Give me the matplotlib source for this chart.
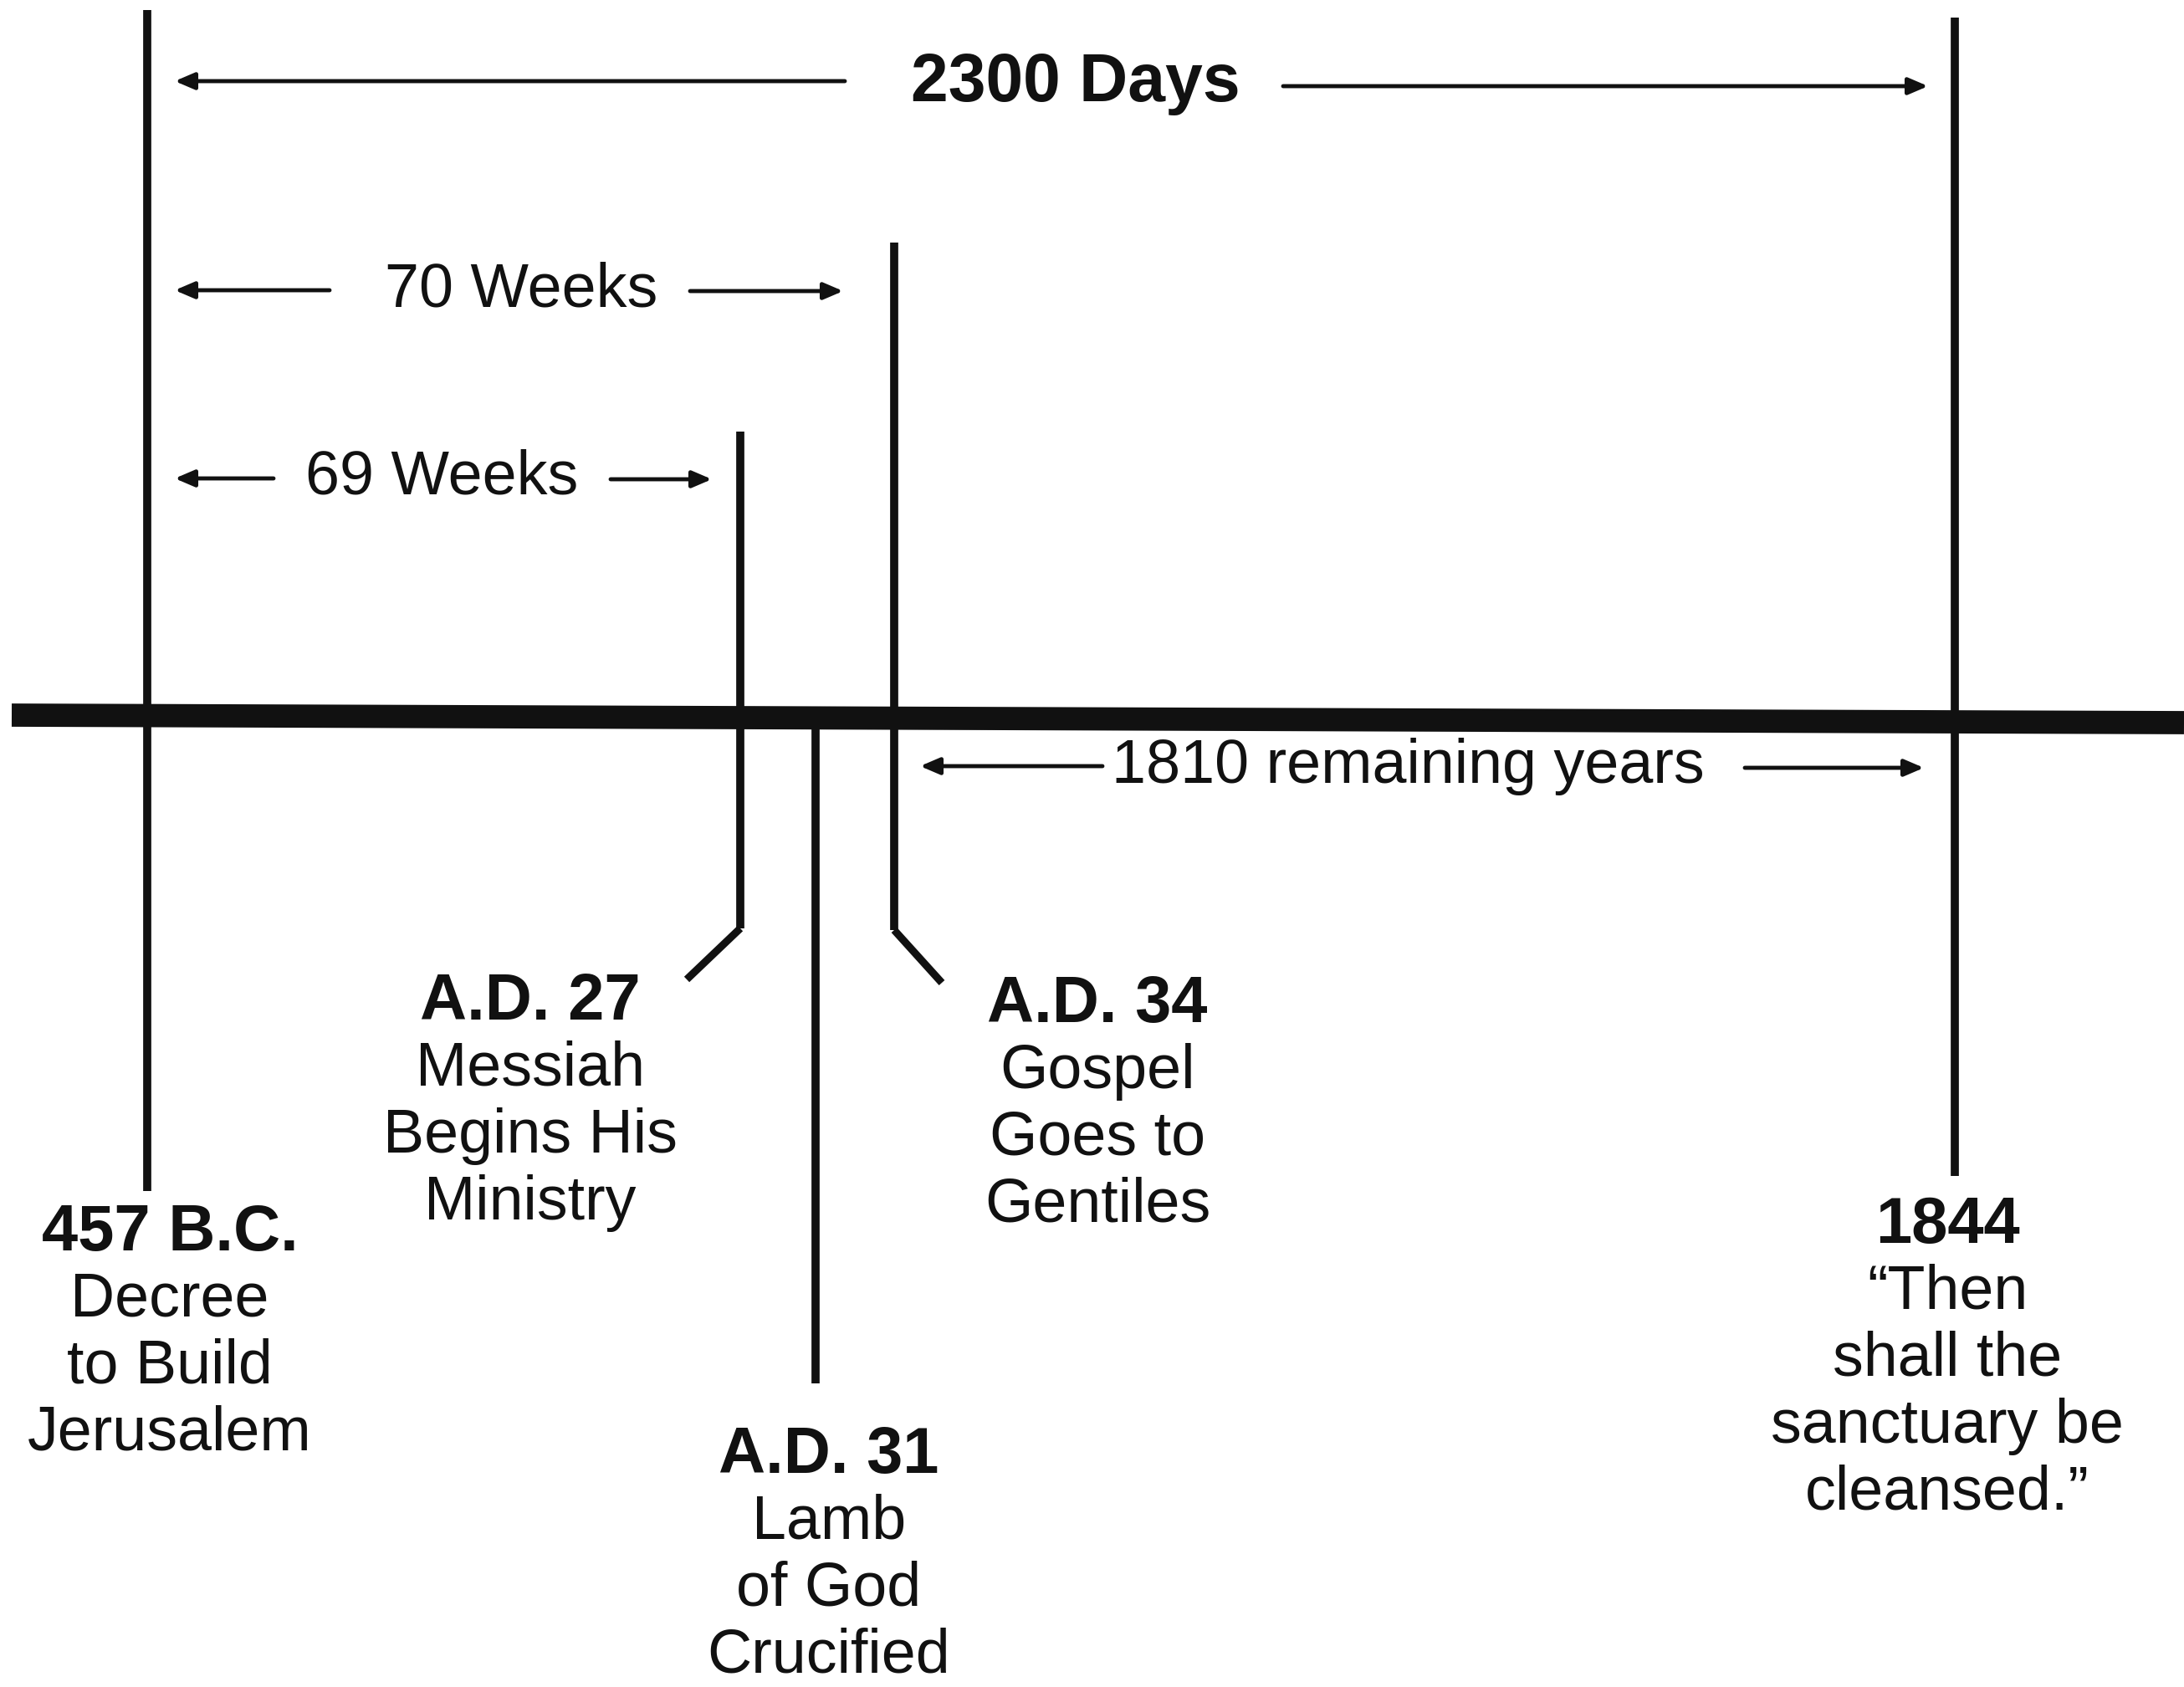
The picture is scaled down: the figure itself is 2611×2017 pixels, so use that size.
import matplotlib
matplotlib.use("Agg")
import matplotlib.pyplot as plt

plt.rcParams['font.family'] = ['Liberation Sans', 'DejaVu Sans']

# timeline events (positions in picture pixels, diagram is not to scale)
event_names = ['457 B.C.', 'A.D. 27', 'A.D. 31', 'A.D. 34', '1844']
event_x = [176, 885, 975, 1069, 2337]
event_top = [12, 516, 866, 290, 21]
event_bottom = [1424, 1110, 1654, 1112, 1406]
# bent leaders at the foot of A.D. 27 and A.D. 34
leader_end_x = [None, 821, None, 1126, None]
leader_end_y = [None, 1171, None, 1175, None]

event_text = [
    ['Decree', 'to Build', 'Jerusalem'],
    ['Messiah', 'Begins His', 'Ministry'],
    ['Lamb', 'of God', 'Crucified'],
    ['Gospel', 'Goes to', 'Gentiles'],
    ['\u201cThen', 'shall the', 'sanctuary be', 'cleansed.\u201d'],
]
label_x = [203, 634, 991, 1312, 2328]
label_y = [1474, 1198, 1740, 1201, 1465]
line_step = 80

# period spans: label, text centre, left arrow, right arrow
span_names = ['2300 Days', '70 Weeks', '69 Weeks', '1810 remaining years']
span_bold = [True, False, False, False]
span_text_x = [1286, 623, 528, 1683]
span_text_y = [100, 347, 571, 916]
left_tail_x = [1010, 394, 327, 1318]
left_head_x = [209, 209, 209, 1100]
right_tail_x = [1534, 825, 730, 2086]
right_head_x = [2305, 1008, 851, 2300]
span_y = [[97, 103], [347, 348], [572, 573], [916, 918]]

# main horizontal axis of the prophecy
axis_x = [14, 2611]
axis_y = [855, 864]

fig = plt.figure(figsize=(26.11, 20.17), dpi=100)
ax = fig.add_axes([0, 0, 1, 1])
ax.set_xlim(0, 2611)
ax.set_ylim(2017, 0)
ax.axis('off')

ax.plot(axis_x, axis_y, color='#111111', lw=20, solid_capstyle='butt', zorder=3)

for i in range(len(event_names)):
    ax.plot([event_x[i], event_x[i]], [event_top[i], event_bottom[i]],
            color='#111111', lw=7, solid_capstyle='butt', zorder=2)
    if leader_end_x[i] is not None:
        ax.plot([event_x[i], leader_end_x[i]], [event_bottom[i], leader_end_y[i]],
                color='#111111', lw=6.5, solid_capstyle='butt', zorder=2)
    ax.text(label_x[i], label_y[i], event_names[i], ha='center', va='center',
            fontsize=56, fontweight='bold', color='#111111')
    for j, t in enumerate(event_text[i]):
        ax.text(label_x[i], label_y[i] + (j + 1) * line_step, t, ha='center',
                va='center', fontsize=53, color='#111111')

arrow_style = '-|>,head_length=0.7,head_width=0.3'
for i in range(len(span_names)):
    yl, yr = span_y[i]
    ax.annotate('', xy=(left_head_x[i], yl), xytext=(left_tail_x[i], yl),
                arrowprops=dict(arrowstyle=arrow_style, lw=3.5, color='#111111',
                                shrinkA=0, shrinkB=0, mutation_scale=20))
    ax.annotate('', xy=(right_head_x[i], yr), xytext=(right_tail_x[i], yr),
                arrowprops=dict(arrowstyle=arrow_style, lw=3.5, color='#111111',
                                shrinkA=0, shrinkB=0, mutation_scale=20))
    ax.text(span_text_x[i], span_text_y[i], span_names[i], ha='center', va='center',
            fontsize=58 if span_bold[i] else 53,
            fontweight='bold' if span_bold[i] else 'normal', color='#111111')

fig.savefig('out.png', dpi=100, facecolor='white')
